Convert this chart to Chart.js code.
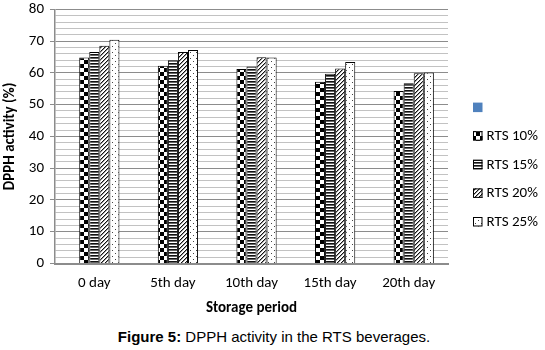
<!DOCTYPE html>
<html><head><meta charset="utf-8">
<script src="https://cdn.jsdelivr.net/npm/chart.js@4.4.1/dist/chart.umd.min.js"></script>
<style>
html,body{margin:0;padding:0;background:#fff;}
#wrap{position:relative;width:545px;height:322px;}
#cap{position:absolute;top:328px;left:0;width:545px;text-align:center;font:15px "Liberation Sans",Arial,sans-serif;color:#000;padding-left:3px;box-sizing:border-box;white-space:nowrap}
</style></head><body>
<div id="wrap"><canvas id="c" width="545" height="322"></canvas></div>
<div id="cap"><b>Figure 5:</b> DPPH activity in the RTS beverages.</div>
<script>
const categories = ['0 day', '5th day', '10th day', '15th day', '20th day'];
const blankSeries = [null, null, null, null, null];
const rts10 = [64.8, 62.2, 61.2, 57.2, 54.3];
const rts15 = [66.6, 64.0, 62.0, 59.7, 56.7];
const rts20 = [68.5, 66.6, 64.9, 61.4, 59.9];
const rts25 = [70.4, 67.2, 64.8, 63.4, 60.1];
const yTickLabels = [0, 10, 20, 30, 40, 50, 60, 70, 80];

const FONT = 'Carlito, Lato, sans-serif';

function makePattern(w, h, draw) {
  const c = document.createElement('canvas');
  c.width = w; c.height = h;
  const g = c.getContext('2d');
  g.fillStyle = '#fff'; g.fillRect(0, 0, w, h);
  draw(g);
  return g.createPattern(c, 'repeat');
}
const checker = makePattern(8, 8, g => {
  g.fillStyle = '#000';
  g.fillRect(0, 0, 4, 4); g.fillRect(4, 4, 4, 4);
});
const hstripes = makePattern(3, 3, g => {
  g.fillStyle = '#111'; g.fillRect(0, 0, 3, 1);
  g.fillStyle = '#666'; g.fillRect(0, 1, 3, 1);
});
const diag = makePattern(4, 4, g => {
  g.fillStyle = '#111';
  g.fillRect(3, 0, 1, 1); g.fillRect(2, 1, 1, 1); g.fillRect(1, 2, 1, 1); g.fillRect(0, 3, 1, 1);
  g.fillStyle = '#999';
  g.fillRect(0, 0, 1, 1); g.fillRect(3, 1, 1, 1); g.fillRect(2, 2, 1, 1); g.fillRect(1, 3, 1, 1);
});
const dots = makePattern(6, 6, g => {
  g.fillStyle = '#444';
  g.fillRect(1, 1, 1, 1); g.fillRect(4, 4, 1, 1);
});

const patternLegend = {
  id: 'patternLegend',
  afterDraw(chart) {
    const {ctx, chartArea} = chart;
    const x = chartArea.right + 25, size = 9.5;
    ctx.save();
    ctx.font = '15px ' + FONT;
    ctx.textBaseline = 'middle';
    chart.data.datasets.forEach((ds, i) => {
      const y = chartArea.top + 93.3 + i * 28.6;
      ctx.fillStyle = ds.backgroundColor;
      ctx.fillRect(x, y, size, size);
      if (ds.borderWidth) {
        ctx.lineWidth = 1; ctx.strokeStyle = '#000';
        ctx.strokeRect(x + 0.5, y + 0.5, size - 1, size - 1);
      }
      ctx.fillStyle = '#000';
      ctx.fillText(ds.label, x + size + 4, y + size / 2 + 0.5);
    });
    ctx.restore();
  }
};

const mk = (label, data, bg, bw) => ({label, data, backgroundColor: bg, borderColor: '#000', borderWidth: bw});

new Chart(document.getElementById('c'), {
  type: 'bar',
  data: {
    labels: categories,
    datasets: [
      mk('', blankSeries, '#4f81bd', 0),
      mk('RTS 10%', rts10, checker, 1),
      mk('RTS 15%', rts15, hstripes, 1),
      mk('RTS 20%', rts20, diag, 1),
      mk('RTS 25%', rts25, dots, 1)
    ]
  },
  options: {
    responsive: false,
    animation: false,
    devicePixelRatio: 1,
    layout: {padding: {top: 9.3, right: 97, left: 0, bottom: 0}},
    datasets: {bar: {categoryPercentage: 0.64, barPercentage: 1.0}},
    plugins: {legend: {display: false}, tooltip: {enabled: false}},
    scales: {
      x: {
        grid: {display: false, drawTicks: false},
        border: {color: '#8c8c8c', width: 2},
        ticks: {color: '#000', font: {family: FONT, size: 15}, padding: 11, maxRotation: 0},
        title: {display: true, text: 'Storage period', color: '#000', font: {family: FONT, size: 15, weight: 'bold'}, padding: {top: 0, bottom: 5}},
        afterFit: s => { s.height = 58.5; s.paddingLeft = 0; s.paddingRight = 0; }
      },
      y: {
        min: 0, max: 80,
        ticks: {
          stepSize: 2, autoSkip: false, color: '#000', padding: 6,
          font: {family: FONT, size: 15},
          callback: v => yTickLabels.includes(v) ? String(v) : ''
        },
        grid: {
          color: c => (c.tick && c.tick.value % 10 === 0) ? '#8c8c8c' : '#c2c2c2',
          tickColor: c => (c.tick && c.tick.value % 10 === 0) ? '#8c8c8c' : 'rgba(0,0,0,0)',
          tickLength: 5, lineWidth: 1
        },
        border: {color: '#8c8c8c', width: 1.5},
        title: {display: true, text: 'DPPH activity (%)', color: '#000', font: {family: FONT, size: 15, weight: 'bold'}, padding: {top: 1, bottom: 0}},
        afterFit: s => { s.width = 55; s.paddingTop = 0; s.paddingBottom = 0; }
      }
    }
  },
  plugins: [patternLegend]
});
</script>
</body></html>
